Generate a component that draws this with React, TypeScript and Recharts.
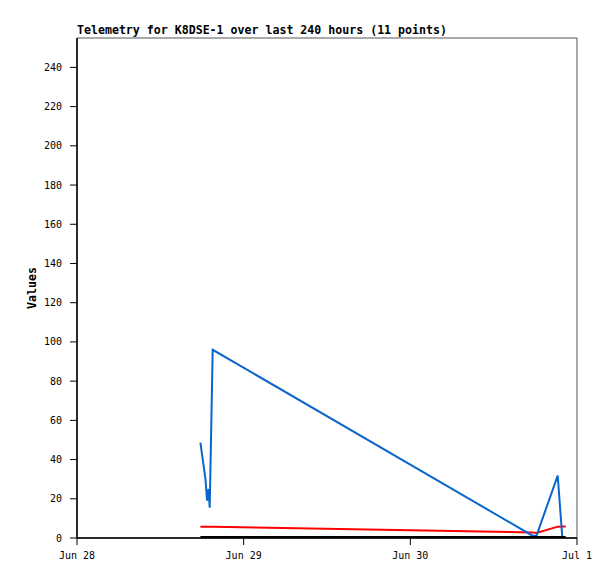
import React from "react";
import { LineChart, Line, XAxis, YAxis, ReferenceArea } from "recharts";

// hours since Jun 28 00:00
const hours = [17.77, 18.5, 18.73, 18.94, 19.11, 19.54, 65.59, 66.17, 69.22, 69.88, 70.37];
const blueValues = [48.6, 30, 19, 25, 15.5, 96, 1.2, 1.2, 31.8, 0.5, 0];
const redValues = [5.8, 5.8, 5.8, 5.8, 5.8, 5.8, 2.8, 2.6, 5.8, 5.9, 5.9];
const blackValues = [0.5, 0.5, 0.5, 0.5, 0.5, 0.5, 0.5, 0.5, 0.5, 0.5, 0.5];

const xTicks = [0, 24, 48, 72];
const xTickLabels = ["Jun 28", "Jun 29", "Jun 30", "Jul 1"];
const yTicks = [0, 20, 40, 60, 80, 100, 120, 140, 160, 180, 200, 220, 240];

const title = "Telemetry for K8DSE-1 over last 240 hours (11 points)";

const data = hours.map((t, i) => ({
  t,
  blue: blueValues[i],
  red: redValues[i],
  black: blackValues[i],
}));

const mono = "'DejaVu Sans Mono', 'Liberation Mono', monospace";

export default function App() {
  return (
    <div style={{ position: "absolute", left: 0, top: 0, width: 615, height: 579, background: "#fff" }}>
      <div
        style={{
          position: "absolute",
          left: 77,
          top: 24,
          fontFamily: mono,
          fontWeight: "bold",
          fontSize: 11.6,
          color: "#000",
          whiteSpace: "nowrap",
          lineHeight: "13px",
        }}
      >
        {title}
      </div>
      <LineChart
        width={615}
        height={579}
        data={data}
        margin={{ top: 38, right: 38, bottom: 0, left: 0 }}
      >
        <ReferenceArea
          x1={0}
          x2={72}
          y1={0}
          y2={255}
          fill="none"
          stroke="#555"
          strokeWidth={1}
          ifOverflow="visible"
        />
        <XAxis
          dataKey="t"
          type="number"
          domain={[0, 72]}
          ticks={xTicks}
          tickFormatter={(v: number) => xTickLabels[xTicks.indexOf(v)]}
          height={41}
          tickSize={7}
          tickMargin={7}
          axisLine={{ stroke: "#000", strokeWidth: 1.5 }}
          tickLine={{ stroke: "#000" }}
          tick={{ fill: "#000", fontFamily: mono, fontSize: 10 }}
          interval={0}
          allowDataOverflow
        />
        <YAxis
          type="number"
          domain={[0, 255]}
          ticks={yTicks}
          width={77}
          tickSize={7}
          tickMargin={8}
          axisLine={{ stroke: "#000", strokeWidth: 1.5 }}
          tickLine={{ stroke: "#000" }}
          tick={{ fill: "#000", fontFamily: mono, fontSize: 10 }}
          interval={0}
          allowDataOverflow
          label={{
            value: "Values",
            angle: -90,
            position: "center",
            dx: -7,
            style: { fontFamily: mono, fontWeight: "bold", fontSize: 11.6, fill: "#000" },
          }}
        />
        <Line
          type="linear"
          dataKey="red"
          stroke="#ff0000"
          strokeWidth={2}
          dot={false}
          isAnimationActive={false}
        />
        <Line
          type="linear"
          dataKey="blue"
          stroke="#0a66cc"
          strokeWidth={2}
          dot={false}
          isAnimationActive={false}
        />
        <Line
          type="linear"
          dataKey="black"
          stroke="#000"
          strokeWidth={2}
          dot={false}
          isAnimationActive={false}
        />
      </LineChart>
    </div>
  );
}
